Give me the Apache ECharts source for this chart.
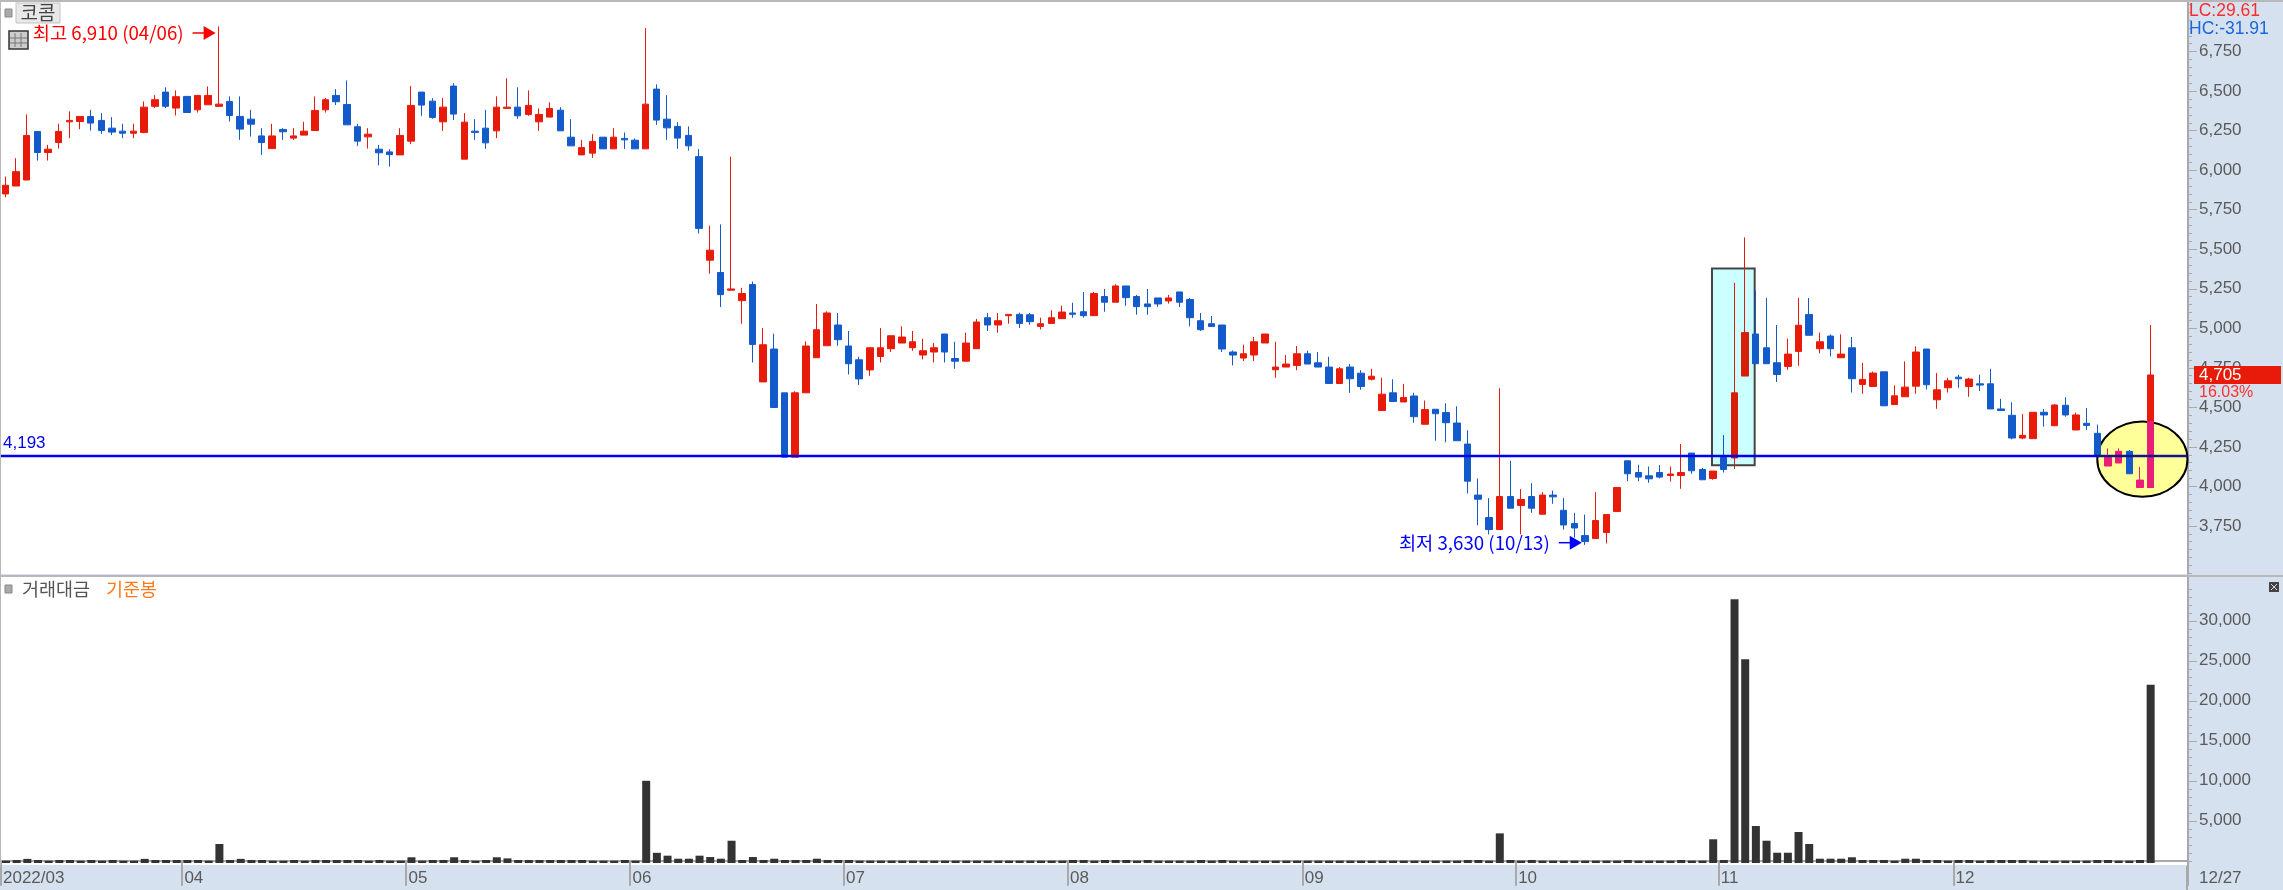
<!DOCTYPE html>
<html><head><meta charset="utf-8"><style>html,body{margin:0;padding:0;background:#d6e1ef}#c{width:2283px;height:890px}</style>
<script src="https://cdn.jsdelivr.net/npm/echarts@6/dist/echarts.min.js"></script></head><body><div id="c"></div>
<script>
const openPrice=[5850,5900,5938,6245,6112,6175,6306,6308,6340,6315,
6266,6247,6234,6239,6404,6494,6393,6467,6382,6414,
6404,6435,6340,6323,6217,6137,6258,6203,6222,6251,
6382,6473,6416,6275,6211,6133,6116,6097,6184,6494,
6437,6306,6532,6070,6247,6266,6249,6391,6399,6353,
6306,6336,6380,6209,6097,6108,6209,6135,6201,6190,
6135,6513,6323,6277,6220,6086,5431,5353,5241,5175,
5277,4661,4869,4592,4185,4592,4814,4890,5021,4888,
4801,4737,4822,4871,4907,4877,4831,4850,4964,4809,
4792,4871,5067,5021,5080,5088,5086,5012,5031,5061,
5097,5105,5080,5201,5165,5268,5201,5154,5192,5173,
5230,5182,5048,5029,5021,4850,4812,4831,4907,4738,
4755,4765,4839,4782,4755,4651,4755,4716,4678,4480,
4592,4534,4572,4393,4488,4467,4401,4268,3945,3803,
3727,3936,3879,3936,3824,3945,3849,3765,3689,3670,
3708,3841,4162,4088,4067,4088,4069,4069,4211,4107,
4050,4183,4180,4698,4964,4877,4782,4759,4854,5087,
4871,4951,4814,4877,4645,4632,4725,4518,4567,4634,
4869,4548,4624,4691,4632,4649,4649,4490,4450,4306,
4302,4469,4384,4513,4357,4399,4336,4129,4148,4222,
3993,3993];
const closePrice=[5905,5991,6220,6112,6133,6245,6315,6340,6298,6251,
6241,6234,6247,6399,6446,6404,6465,6365,6473,6473,
6418,6346,6260,6291,6175,6217,6243,6217,6247,6378,
6446,6433,6287,6184,6228,6110,6099,6220,6410,6412,
6334,6399,6355,6304,6239,6173,6399,6399,6344,6410,
6353,6391,6249,6154,6143,6182,6135,6209,6192,6135,
6418,6317,6268,6203,6154,5632,5494,5213,5249,5220,
4898,4896,4499,4185,4592,4888,4991,5097,4928,4776,
4680,4877,4877,4953,4945,4915,4858,4877,4850,4792,
4907,5040,5021,5048,5088,5031,5042,5029,5067,5103,
5089,5080,5220,5165,5268,5194,5137,5137,5154,5192,
5165,5067,4991,5012,4869,4831,4839,4915,4964,4755,
4774,4839,4774,4755,4651,4744,4681,4632,4697,4583,
4537,4562,4441,4486,4460,4403,4289,4033,3919,3727,
3936,3862,3917,3862,3945,3934,3756,3737,3651,3784,
3822,3993,4080,4059,4048,4059,4078,4088,4099,4042,
4097,4107,4592,4973,4776,4776,4708,4837,5019,4956,
4915,4871,4837,4681,4677,4717,4510,4573,4628,4850,
4643,4611,4668,4681,4679,4641,4490,4480,4306,4323,
4469,4452,4515,4452,4452,4386,4193,4184,4222,4080,
4040,4705];
const highPrice=[5960,6076,6353,6245,6160,6294,6372,6340,6382,6361,
6336,6294,6294,6435,6475,6524,6505,6467,6473,6530,
6910,6467,6467,6382,6266,6294,6266,6266,6306,6467,
6456,6513,6568,6294,6266,6160,6133,6266,6532,6494,
6456,6456,6551,6361,6323,6382,6467,6581,6524,6505,
6391,6429,6399,6323,6192,6228,6209,6266,6239,6201,
6900,6543,6475,6304,6277,6133,5649,5657,6086,5256,
5296,5002,4966,4592,4602,4917,5154,5107,5097,4983,
4820,4877,5002,4953,5012,4983,4934,4907,4964,4915,
4972,5059,5097,5097,5088,5099,5097,5067,5114,5143,
5162,5230,5230,5249,5279,5268,5211,5249,5192,5211,
5230,5192,5097,5078,5021,4860,4896,4945,4964,4915,
4831,4888,4858,4850,4820,4755,4774,4735,4744,4687,
4678,4649,4592,4543,4488,4526,4507,4355,4050,3926,
4621,4162,3983,4021,3964,3974,3926,3833,3822,3964,
3822,3993,4162,4137,4126,4135,4126,4268,4211,4116,
4097,4325,5288,5575,5239,5192,5021,4935,5192,5192,
4973,4962,4962,4945,4782,4727,4725,4639,4791,4886,
4869,4717,4687,4706,4687,4706,4744,4554,4532,4458,
4469,4490,4522,4564,4467,4496,4391,4241,4241,4230,
4124,5021];
const lowPrice=[5829,5900,5938,6061,6061,6137,6203,6260,6251,6230,
6222,6203,6203,6234,6393,6393,6346,6365,6365,6414,
6404,6308,6192,6213,6097,6137,6192,6192,6222,6251,
6365,6412,6287,6154,6137,6031,6023,6097,6165,6344,
6325,6249,6317,6070,6192,6135,6203,6391,6325,6344,
6249,6336,6249,6154,6097,6078,6135,6135,6135,6135,
6135,6287,6192,6135,6124,5600,5346,5135,5241,5029,
4784,4661,4499,4185,4185,4592,4814,4890,4890,4708,
4642,4699,4784,4850,4907,4858,4803,4784,4784,4744,
4792,4871,4983,4972,5029,5002,5023,4993,5031,5061,
5067,5067,5080,5105,5165,5143,5086,5086,5135,5156,
5135,5012,4983,5012,4850,4765,4793,4793,4907,4687,
4755,4735,4774,4755,4651,4651,4592,4611,4670,4480,
4537,4534,4403,4393,4289,4279,4289,3955,3754,3697,
3727,3862,3697,3833,3824,3890,3727,3676,3630,3670,
3640,3841,4033,4033,4023,4050,4031,3985,4080,4042,
4042,4088,4110,4698,4776,4776,4660,4738,4763,4956,
4842,4822,4814,4594,4586,4632,4510,4518,4567,4586,
4613,4491,4594,4624,4567,4603,4490,4480,4298,4298,
4302,4378,4384,4441,4357,4357,4193,4129,4148,4080,
3993,3993];
const tradeValue=[20,100,240,100,20,100,100,20,100,20,
100,20,20,240,100,100,100,100,100,20,
2100,100,240,100,100,20,20,100,20,100,
100,100,100,100,20,100,20,20,440,20,
100,100,440,100,20,100,440,300,100,100,
100,100,100,100,100,20,20,20,100,20,
10000,1000,640,260,260,640,470,260,2510,100,
470,100,260,100,100,100,260,100,100,100,
20,20,20,20,20,20,20,20,20,20,
20,20,20,20,20,20,20,20,20,20,
100,100,20,100,100,100,20,100,20,20,
20,20,100,20,100,20,20,20,20,20,
20,20,20,20,20,20,20,20,20,20,
20,20,20,20,20,20,20,100,100,20,
3430,100,20,100,20,20,20,20,20,20,
20,20,100,20,20,20,20,100,20,20,
2690,100,32690,25190,4350,2510,1010,1010,3600,2100,
260,260,260,440,100,100,100,20,260,260,
100,100,20,100,100,20,100,100,100,100,
20,20,20,20,20,20,100,100,20,20,
100,22010];
const slotCount=205;
const monthIndex=[0,17,38,59,79,100,122,142,161,183];
const monthLabels=['2022/03','04','05','06','07','08','09','10','11','12'];
const priceTicks=[3750,4000,4250,4500,4750,5000,5250,5500,5750,6000,6250,6500,6750];
const priceMinorTicks=[];for(let v=3450;v<=7050;v+=50)priceMinorTicks.push(v);
const valueTicks=[5000,10000,15000,20000,25000,30000];
const valueMinorTicks=[];for(let v=0;v<=34000;v+=1000)valueMinorTicks.push(v);
const supportPrice=4193;
const tintedUp=[197,198,200];
const boxedUp=[162,163];
// annotation shapes on the chart's own scales [x index, price]
const boxRange=[159.9,163.9,5379,4134];
const ellipseRange=[196.0,204.45,4410,3935];
const lastBarTint=[201,3993,4410];
const peakNote=['최고 6,910 (04/06)',19.7,6868,'#ff0000'];
const lowNote=['최저 3,630 (10/13)',147.7,3644,'#0000ff'];

const RED='#e81b0a',BLUE='#135bcb',PINK='#e91e78',GRAY='#a9a9a9',TXT='#5a5a5a';
const SANS='"Liberation Sans",sans-serif';
const KR='"Noto Sans CJK KR",sans-serif';
const idx=[...Array(slotCount).keys()];
const fmt=v=>v.toLocaleString('en-US');

const candles=openPrice.map((o,i)=>{
  const c=closePrice[i];
  const item={value:[o,c,lowPrice[i],highPrice[i]]};
  if(tintedUp.includes(i))item.itemStyle={color:PINK,borderColor:PINK};
  if(boxedUp.includes(i))item.itemStyle={color:'#d81e08',borderColor:'#d81e08'};
  return item;
});
const tint=idx.map(i=>i===lastBarTint[0]?[lastBarTint[1],lastBarTint[2],lastBarTint[1],lastBarTint[2]]:['-','-','-','-']);

const option={
 animation:false,backgroundColor:'#d6e1ef',
 grid:[
  {left:0,top:2,width:2188,height:572,show:true,backgroundColor:'#fff',borderWidth:0},
  {left:0,top:577,width:2188,height:288,show:true,backgroundColor:'#fff',borderWidth:0}
 ],
 xAxis:[
  {type:'category',gridIndex:0,data:idx,show:false},
  {type:'category',gridIndex:1,data:idx,
   axisLine:{lineStyle:{color:GRAY,width:2}},
   axisTick:{show:true,length:25,interval:i=>monthIndex.includes(i),lineStyle:{color:GRAY,width:2}},
   axisLabel:{interval:i=>monthIndex.includes(i),formatter:(v)=>monthLabels[monthIndex.indexOf(+v)]||'',
     align:'left',color:TXT,fontFamily:SANS,fontSize:17,margin:5,padding:[0,0,0,-3]}},
  {type:'value',gridIndex:0,min:-0.5,max:204.5,show:false}
 ],
 yAxis:[
  {type:'value',gridIndex:0,position:'right',min:3446,max:7064,scale:true,splitLine:{show:false},
   axisLine:{show:true,onZero:false,lineStyle:{color:GRAY,width:2}},
   axisTick:{show:true,length:9,customValues:priceTicks,lineStyle:{color:GRAY}},
   axisLabel:{customValues:priceTicks,formatter:fmt,color:TXT,fontFamily:SANS,fontSize:17,margin:11}},
  {type:'value',gridIndex:0,position:'right',min:3446,max:7064,scale:true,splitLine:{show:false},
   axisLine:{show:false,onZero:false},
   axisTick:{show:true,length:4,customValues:priceMinorTicks,lineStyle:{color:GRAY}},
   axisLabel:{show:false}},
  {type:'value',gridIndex:1,position:'right',min:-525,max:35475,scale:true,splitLine:{show:false},
   axisLine:{show:true,onZero:false,lineStyle:{color:GRAY,width:2}},
   axisTick:{show:true,length:9,customValues:valueTicks,lineStyle:{color:GRAY}},
   axisLabel:{customValues:valueTicks,formatter:fmt,color:TXT,fontFamily:SANS,fontSize:17,margin:11}},
  {type:'value',gridIndex:1,position:'right',min:-525,max:35475,scale:true,splitLine:{show:false},
   axisLine:{show:false,onZero:false},
   axisTick:{show:true,length:4,customValues:valueMinorTicks,lineStyle:{color:GRAY}},
   axisLabel:{show:false}}
 ],
 series:[
  {type:'custom',name:'box',xAxisIndex:2,yAxisIndex:0,z:1,silent:true,clip:false,data:[boxRange],
   encode:{x:[0,1],y:[2,3]},
   renderItem:(p,api)=>{const a=api.coord([api.value(0),api.value(2)]),b=api.coord([api.value(1),api.value(3)]);
    return{type:'rect',shape:{x:a[0],y:a[1],width:b[0]-a[0],height:b[1]-a[1]},style:{fill:'#ccffff',stroke:'#444',lineWidth:2}};}},
  {type:'custom',name:'ellipse',xAxisIndex:2,yAxisIndex:0,z:1,silent:true,clip:false,data:[ellipseRange],
   encode:{x:[0,1],y:[2,3]},
   renderItem:(p,api)=>{const a=api.coord([api.value(0),api.value(2)]),b=api.coord([api.value(1),api.value(3)]);
    return{type:'ellipse',shape:{cx:(a[0]+b[0])/2,cy:(a[1]+b[1])/2,rx:(b[0]-a[0])/2,ry:(b[1]-a[1])/2},style:{fill:'#ffff99',stroke:'#000',lineWidth:2}};}},
  {type:'candlestick',name:'코콤',xAxisIndex:0,yAxisIndex:0,z:2,barWidth:7,data:candles,silent:true,
   itemStyle:{color:RED,color0:BLUE,borderColor:RED,borderColor0:BLUE,borderWidth:1}},
  {type:'candlestick',name:'tint',xAxisIndex:0,yAxisIndex:0,z:3,barWidth:7,data:tint,silent:true,
   itemStyle:{color:PINK,color0:PINK,borderColor:PINK,borderColor0:PINK,borderWidth:1}},
  {type:'custom',name:'support',xAxisIndex:2,yAxisIndex:0,z:4,silent:true,clip:false,
   data:[[-0.5,196.0,supportPrice,'#0000f0',fmt(supportPrice)],[196.0,204.45,supportPrice,'#14148c','']],
   encode:{x:[0,1],y:2},
   renderItem:(p,api)=>{const a=api.coord([api.value(0),api.value(2)]),b=api.coord([api.value(1),api.value(2)]);
    const kids=[{type:'line',shape:{x1:a[0],y1:a[1],x2:b[0],y2:b[1]},style:{stroke:api.value(3),lineWidth:2.5}}];
    const t=api.value(4);
    if(t)kids.push({type:'text',x:a[0]+3,y:a[1]-13,style:{text:t,fill:'#0000ee',font:'17px '+SANS,align:'left',verticalAlign:'middle'}});
    return{type:'group',children:kids};}},
  {type:'custom',name:'notes',xAxisIndex:2,yAxisIndex:0,z:5,silent:true,clip:false,
   data:[peakNote,lowNote],encode:{x:1,y:2},
   renderItem:(p,api)=>{const c=api.coord([api.value(1),api.value(2)]),col=api.value(3),x=c[0],y=c[1];
    return{type:'group',children:[
     {type:'line',shape:{x1:x-23,y1:y,x2:x-10,y2:y},style:{stroke:col,lineWidth:1.5}},
     {type:'polygon',shape:{points:[[x,y],[x-12,y-7],[x-12,y+7]]},style:{fill:col}},
     {type:'text',x:x-32,y:y,style:{text:api.value(0),fill:col,font:'18.7px '+KR,align:'right',verticalAlign:'middle'}}
    ]};}},
  {type:'custom',name:'거래대금',xAxisIndex:1,yAxisIndex:2,z:2,silent:true,
   data:tradeValue.map((v,i)=>[i,v]),encode:{x:0,y:1},
   renderItem:(p,api)=>{const t=api.coord([api.value(0),api.value(1)]),f=api.coord([api.value(0),-275]);
    return{type:'rect',shape:{x:t[0]-4,y:t[1],width:8,height:f[1]-t[1]},style:{fill:'#333333'}};}}
 ],
 graphic:[
  {type:'rect',z:50,shape:{x:0,y:0,width:2283,height:2},style:{fill:'#b8b8b8'}},
  {type:'rect',z:50,shape:{x:0,y:0,width:1,height:866},style:{fill:'#b8b8b8'}},
  {type:'rect',z:50,shape:{x:0,y:575,width:2283,height:2},style:{fill:'#b8b8b8'}},
  {type:'rect',z:50,shape:{x:5,y:9,width:7,height:8},style:{fill:'#aaa',stroke:'#888'}},
  {type:'rect',z:50,shape:{x:16,y:3,width:44,height:20},style:{fill:'#e8e8e8',stroke:'#c4c4c4'}},
  {type:'text',z:51,x:38,y:13,style:{text:'코콤',fill:'#444',font:'19px '+KR,align:'center',verticalAlign:'middle'}},
  {type:'rect',z:50,shape:{x:9,y:31,width:19,height:18},style:{fill:'#ccc',stroke:'#333',lineWidth:1.5}},
  {type:'line',z:51,shape:{x1:15,y1:33,x2:15,y2:47},style:{stroke:'#777'}},
  {type:'line',z:51,shape:{x1:21,y1:33,x2:21,y2:47},style:{stroke:'#777'}},
  {type:'line',z:51,shape:{x1:10,y1:38,x2:27,y2:38},style:{stroke:'#777'}},
  {type:'line',z:51,shape:{x1:10,y1:43,x2:27,y2:43},style:{stroke:'#777'}},
  {type:'rect',z:50,shape:{x:5,y:585,width:7,height:8},style:{fill:'#aaa',stroke:'#888'}},
  {type:'text',z:51,x:22,y:589,style:{text:'거래대금',fill:'#555',font:'18.5px '+KR,align:'left',verticalAlign:'middle'}},
  {type:'text',z:51,x:106,y:589,style:{text:'기준봉',fill:'#ff7a1a',font:'18.5px '+KR,align:'left',verticalAlign:'middle'}},
  {type:'text',z:51,x:2189,y:11,style:{text:'LC:29.61',fill:'#ff2a2a',font:'17.5px '+SANS,align:'left',verticalAlign:'middle'}},
  {type:'text',z:51,x:2189,y:29,style:{text:'HC:-31.91',fill:'#1a66dd',font:'17.5px '+SANS,align:'left',verticalAlign:'middle'}},
  {type:'rect',z:50,shape:{x:2194,y:366,width:87,height:18},style:{fill:RED}},
  {type:'text',z:51,x:2199,y:375,style:{text:'4,705',fill:'#fff',font:'17px '+SANS,align:'left',verticalAlign:'middle'}},
  {type:'text',z:51,x:2199,y:393,style:{text:'16.03%',fill:'#ff3030',font:'16px '+SANS,align:'left',verticalAlign:'middle'}},
  {type:'rect',z:50,shape:{x:2269,y:582,width:10,height:10},style:{fill:'#444'}},
  {type:'line',z:51,shape:{x1:2271,y1:584,x2:2277,y2:590},style:{stroke:'#ddd'}},
  {type:'line',z:51,shape:{x1:2277,y1:584,x2:2271,y2:590},style:{stroke:'#ddd'}},
  {type:'line',z:50,shape:{x1:2187,y1:866,x2:2187,y2:890},style:{stroke:GRAY,lineWidth:2}},
  {type:'text',z:51,x:2199,y:878,style:{text:'12/27',fill:TXT,font:'17px '+SANS,align:'left',verticalAlign:'middle'}}
 ]
};
echarts.init(document.getElementById('c'),null,{renderer:'canvas'}).setOption(option);
</script></body></html>
